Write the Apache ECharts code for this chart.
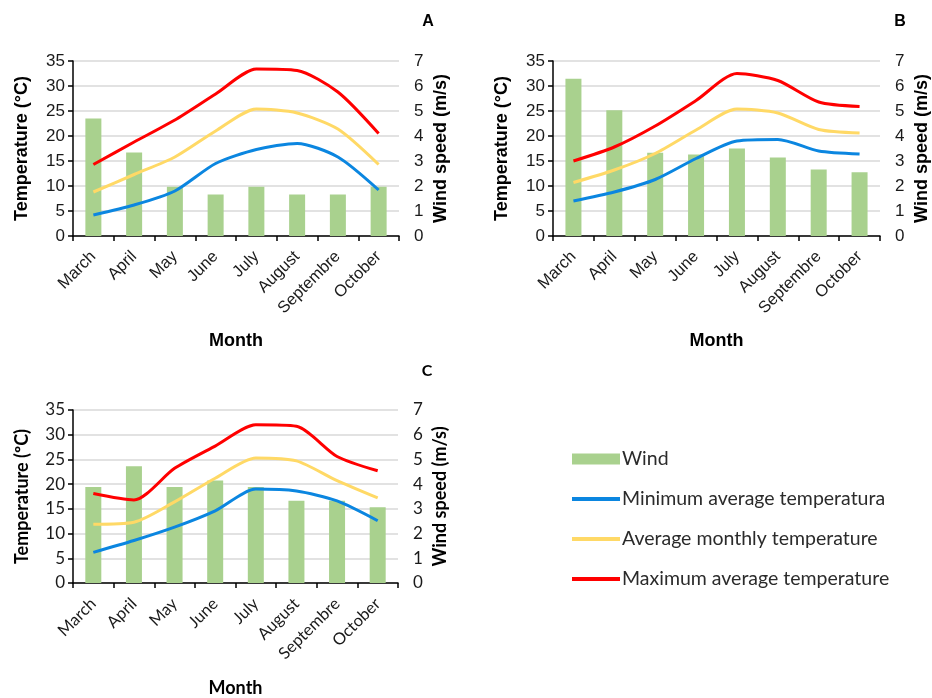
<!DOCTYPE html>
<html>
<head>
<meta charset="utf-8">
<script src="https://cdn.jsdelivr.net/npm/echarts@6/dist/echarts.min.js"></script>
<style>
html,body{margin:0;padding:0;background:#fff;}
#c{width:932px;height:698px;}
</style>
</head>
<body>
<div id="c"></div>
<script>
const months = ['March','April','May','June','July','August','Septembre','October'];
const tempTicks = [0,5,10,15,20,25,30,35];
const windTicks = [0,1,2,3,4,5,6,7];

const windA = [4.7, 3.34, 1.97, 1.66, 1.97, 1.66, 1.66, 1.97];
const minA  = [4.2, 6.2, 9.0, 14.5, 17.3, 18.5, 15.8, 9.2];
const avgA  = [8.8, 12.3, 15.8, 21.0, 25.4, 24.6, 21.4, 14.3];
const maxA  = [14.3, 18.8, 23.2, 28.4, 33.4, 33.1, 28.8, 20.5];

const windB = [6.29, 5.03, 3.33, 3.26, 3.5, 3.14, 2.66, 2.55];
const minB  = [7.0, 8.8, 11.3, 15.5, 19.0, 19.3, 17.0, 16.4];
const avgB  = [10.7, 13.2, 16.5, 21.2, 25.4, 24.6, 21.3, 20.6];
const maxB  = [15.0, 17.8, 22.0, 27.1, 32.5, 31.1, 26.8, 25.9];

const windC = [3.88, 4.72, 3.88, 4.15, 3.88, 3.33, 3.33, 3.06];
const minC  = [6.2, 8.6, 11.3, 14.6, 19.0, 18.6, 16.6, 12.6];
const avgC  = [11.9, 12.3, 16.4, 21.2, 25.3, 24.7, 20.7, 17.2];
const maxC  = [18.1, 16.8, 23.2, 27.7, 32.0, 31.7, 25.6, 22.7];

const names = ['Wind','Minimum average temperatura','Average monthly temperature','Maximum average temperature'];
const panelLetters = ['A','B','C'];
const tempNames = ['Temperature (°C)','Temperature (°C)','Temperature (ºC)'];

const panels = [
  {wind: windA, min: minA, avg: avgA, max: maxA, font: 'Liberation Sans', grid: {left:73, top:61, width:326, height:175}},
  {wind: windB, min: minB, avg: avgB, max: maxB, font: 'Liberation Sans', grid: {left:553, top:61, width:329, height:175}},
  {wind: windC, min: minC, avg: avgC, max: maxC, font: 'Lato', grid: {left:73, top:410, width:325, height:176}}
];

const GREEN = '#A9D18E', BLUE = '#0B86E0', YELLOW = '#FFD966', RED = '#FF0000';
const LINE_ICON = 'path://M0,0M48,11M0,3.5H48V7.5H0Z';

const option = {
  backgroundColor: '#fff',
  animation: false,
  grid: [], xAxis: [], yAxis: [], series: [],
  legend: {
    orient: 'vertical',
    left: 572, top: 449, padding: 0,
    itemWidth: 48, itemHeight: 11, itemGap: 20,
    textStyle: {fontFamily: 'Lato', fontSize: 19.5, color: '#2b2b2b', padding: [0,0,0,-3]},
    data: [
      {name: names[0], icon: 'rect'},
      {name: names[1], icon: LINE_ICON},
      {name: names[2], icon: LINE_ICON},
      {name: names[3], icon: LINE_ICON}
    ]
  },
  graphic: []
};

const letterPos = [[428,22],[900,22],[427,371]];

panels.forEach((p, i) => {
  option.grid.push(Object.assign({containLabel: false}, p.grid));
  const tickFont = {fontFamily: p.font, fontSize: 16.5, color: '#1a1a1a'};
  const nameFont = {fontFamily: p.font, fontSize: 18, fontWeight: 'bold', color: '#000'};
  option.xAxis.push({
    type: 'category', gridIndex: i, data: months, boundaryGap: true,
    name: 'Month', nameLocation: 'middle', nameGap: 96, nameTextStyle: nameFont,
    axisLine: {show: true, lineStyle: {color: '#000', width: 1.5}},
    axisTick: {show: true, length: 5, lineStyle: {color: '#000', width: 1.5}},
    axisLabel: Object.assign({rotate: 45, margin: 18, interval: 0}, tickFont),
    splitLine: {show: false}
  });
  option.yAxis.push({
    type: 'value', gridIndex: i, min: tempTicks[0], max: tempTicks[tempTicks.length-1], interval: tempTicks[1]-tempTicks[0],
    name: tempNames[i], nameLocation: 'middle', nameRotate: 90, nameGap: 42, nameTextStyle: nameFont,
    axisLine: {show: true, lineStyle: {color: '#000', width: 1.5}},
    axisTick: {show: true, length: 5, inside: false, lineStyle: {color: '#000', width: 1.5}},
    axisLabel: Object.assign({margin: 8}, tickFont, {fontSize: 17}),
    splitLine: {show: true, lineStyle: {color: '#D9D9D9', width: 1.5}}
  });
  option.yAxis.push({
    type: 'value', gridIndex: i, position: 'right', min: windTicks[0], max: windTicks[windTicks.length-1], interval: windTicks[1]-windTicks[0],
    name: 'Wind speed (m/s)', nameLocation: 'middle', nameRotate: 90, nameGap: 33, nameTextStyle: nameFont,
    axisLine: {show: false}, axisTick: {show: false},
    axisLabel: Object.assign({margin: 15}, tickFont, {fontSize: 17}),
    splitLine: {show: false}
  });
  option.series.push({
    name: names[0], type: 'bar', xAxisIndex: i, yAxisIndex: 2*i+1, data: p.wind,
    barWidth: 16, itemStyle: {color: GREEN}, z: 2
  });
  [[names[1], p.min, BLUE],[names[2], p.avg, YELLOW],[names[3], p.max, RED]].forEach(([n, d, c]) => {
    option.series.push({
      name: n, type: 'line', xAxisIndex: i, yAxisIndex: 2*i, data: d,
      symbol: 'none', smooth: 0.25,
      lineStyle: {color: c, width: 3}, itemStyle: {color: c}, z: 3
    });
  });
  option.graphic.push({
    type: 'text', x: letterPos[i][0], y: letterPos[i][1],
    style: {text: panelLetters[i], fontFamily: p.font, fontSize: 16, fontWeight: 'bold', fill: '#000', textAlign: 'center', textVerticalAlign: 'middle'}
  });
});

const chart = echarts.init(document.getElementById('c'), null, {renderer: 'canvas'});
chart.setOption(option);
</script>
</body>
</html>
